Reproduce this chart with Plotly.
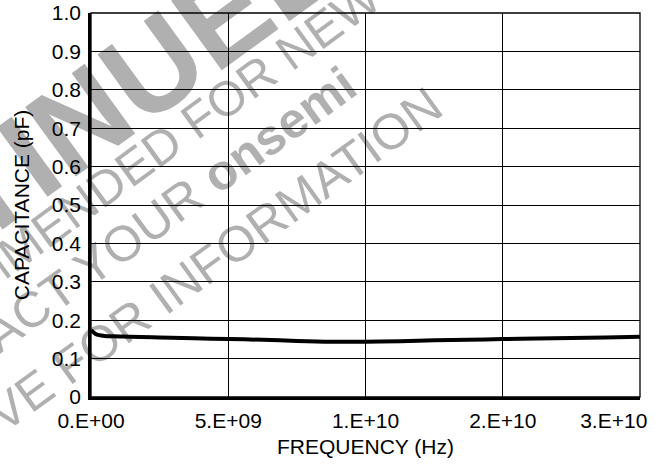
import math
import plotly.graph_objects as go

# ---- data (x positions are in axis-division units: 0..4 maps to the labelled gridlines) ----
freq_pos = [0.0, 0.012, 0.03, 0.06, 0.1, 0.16, 0.28, 0.5, 0.75, 1.0, 1.25, 1.5,
            1.75, 2.0, 2.25, 2.5, 2.75, 3.0, 3.25, 3.5, 3.75, 4.0]
capacitance = [0.174, 0.170, 0.165, 0.161, 0.159, 0.158, 0.157, 0.155, 0.153, 0.151,
               0.149, 0.146, 0.144, 0.144, 0.1455, 0.1475, 0.149, 0.151, 0.1525,
               0.1535, 0.155, 0.157]
x_tick_pos = [0, 1, 2, 3, 4]
x_tick_labels = ["0.E+00", "5.E+09", "1.E+10", "2.E+10", "3.E+10"]
y_tick_vals = [0, 0.1, 0.2, 0.3, 0.4, 0.5, 0.6, 0.7, 0.8, 0.9, 1.0]
y_tick_labels = ["0", "0.1", "0.2", "0.3", "0.4", "0.5", "0.6", "0.7", "0.8", "0.9", "1.0"]

FONT = "Liberation Sans, Arial, Helvetica, sans-serif"
W, H = 664, 464
ML, MR, MT, MB = 91, 24, 13, 67
PW, PH = W - ML - MR, H - MT - MB

fig = go.Figure()
fig.add_trace(go.Scatter(x=freq_pos, y=capacitance, mode="lines",
                         line=dict(color="black", width=4, shape="spline"),
                         showlegend=False, hoverinfo="skip"))


def to_paper(px, py):
    return (px - ML) / PW, (MT + PH - py) / PH


def watermark(text, cx, cy, size, angle=36):
    a = math.radians(angle)
    d = 60
    x0, y0 = to_paper(cx - d * math.cos(a), cy + d * math.sin(a))
    x1, y1 = to_paper(cx + d * math.cos(a), cy - d * math.sin(a))
    return dict(type="line", xref="paper", yref="paper", x0=x0, y0=y0, x1=x1, y1=y1,
                line=dict(width=1, color="rgba(0,0,0,0)"), layer="below",
                label=dict(text=text, textposition="middle", yanchor="middle",
                           font=dict(family=FONT, size=size, color="#b0b0b0")))


shapes = [
    watermark("<b>DISCONTINUED</b>", -62, 208, 125),
    watermark("NOT RECOMMENDED FOR NEW DESIGN", 147, 150, 49),
    watermark("CONTACT YOUR <b>onsemi</b>", 111, 246, 50),
    watermark("REPRESENTATIVE FOR INFORMATION", 60, 366, 50),
    dict(type="rect", xref="paper", yref="paper", x0=0, y0=0, x1=1, y1=1,
         line=dict(color="black", width=1.3), layer="above"),
]

# last label is right-aligned inside the plot in the reference: pad it on the right
x_text = x_tick_labels[:-1] + [x_tick_labels[-1] + "\u00a0" * 9]

axis_common = dict(showgrid=True, gridcolor="black", gridwidth=1, zeroline=False,
                   showline=True, linecolor="black", linewidth=2.6, ticks="",
                   automargin=False, ticklabeloverflow="allow",
                   tickfont=dict(family=FONT, size=21, color="black"))

fig.update_layout(
    template="none",
    width=W, height=H,
    margin=dict(l=ML, r=MR, t=MT, b=MB, pad=0),
    paper_bgcolor="white", plot_bgcolor="white",
    shapes=shapes,
    xaxis=dict(range=[0, 4], tickmode="array", tickvals=x_tick_pos, ticktext=x_text,
               ticklabelstandoff=3,
               title=dict(text="FREQUENCY (Hz)", font=dict(family=FONT, size=21, color="black"),
                          standoff=9),
               **axis_common),
    yaxis=dict(range=[0, 1], tickmode="array", tickvals=y_tick_vals, ticktext=y_tick_labels,
               ticklabelstandoff=3,
               title=dict(text="CAPACITANCE (pF)", font=dict(family=FONT, size=21, color="black"),
                          standoff=17),
               **axis_common),
)

fig.write_html("out.html", config={"displayModeBar": False},
               post_script="document.body.style.margin='0';document.body.style.overflow='hidden';")
